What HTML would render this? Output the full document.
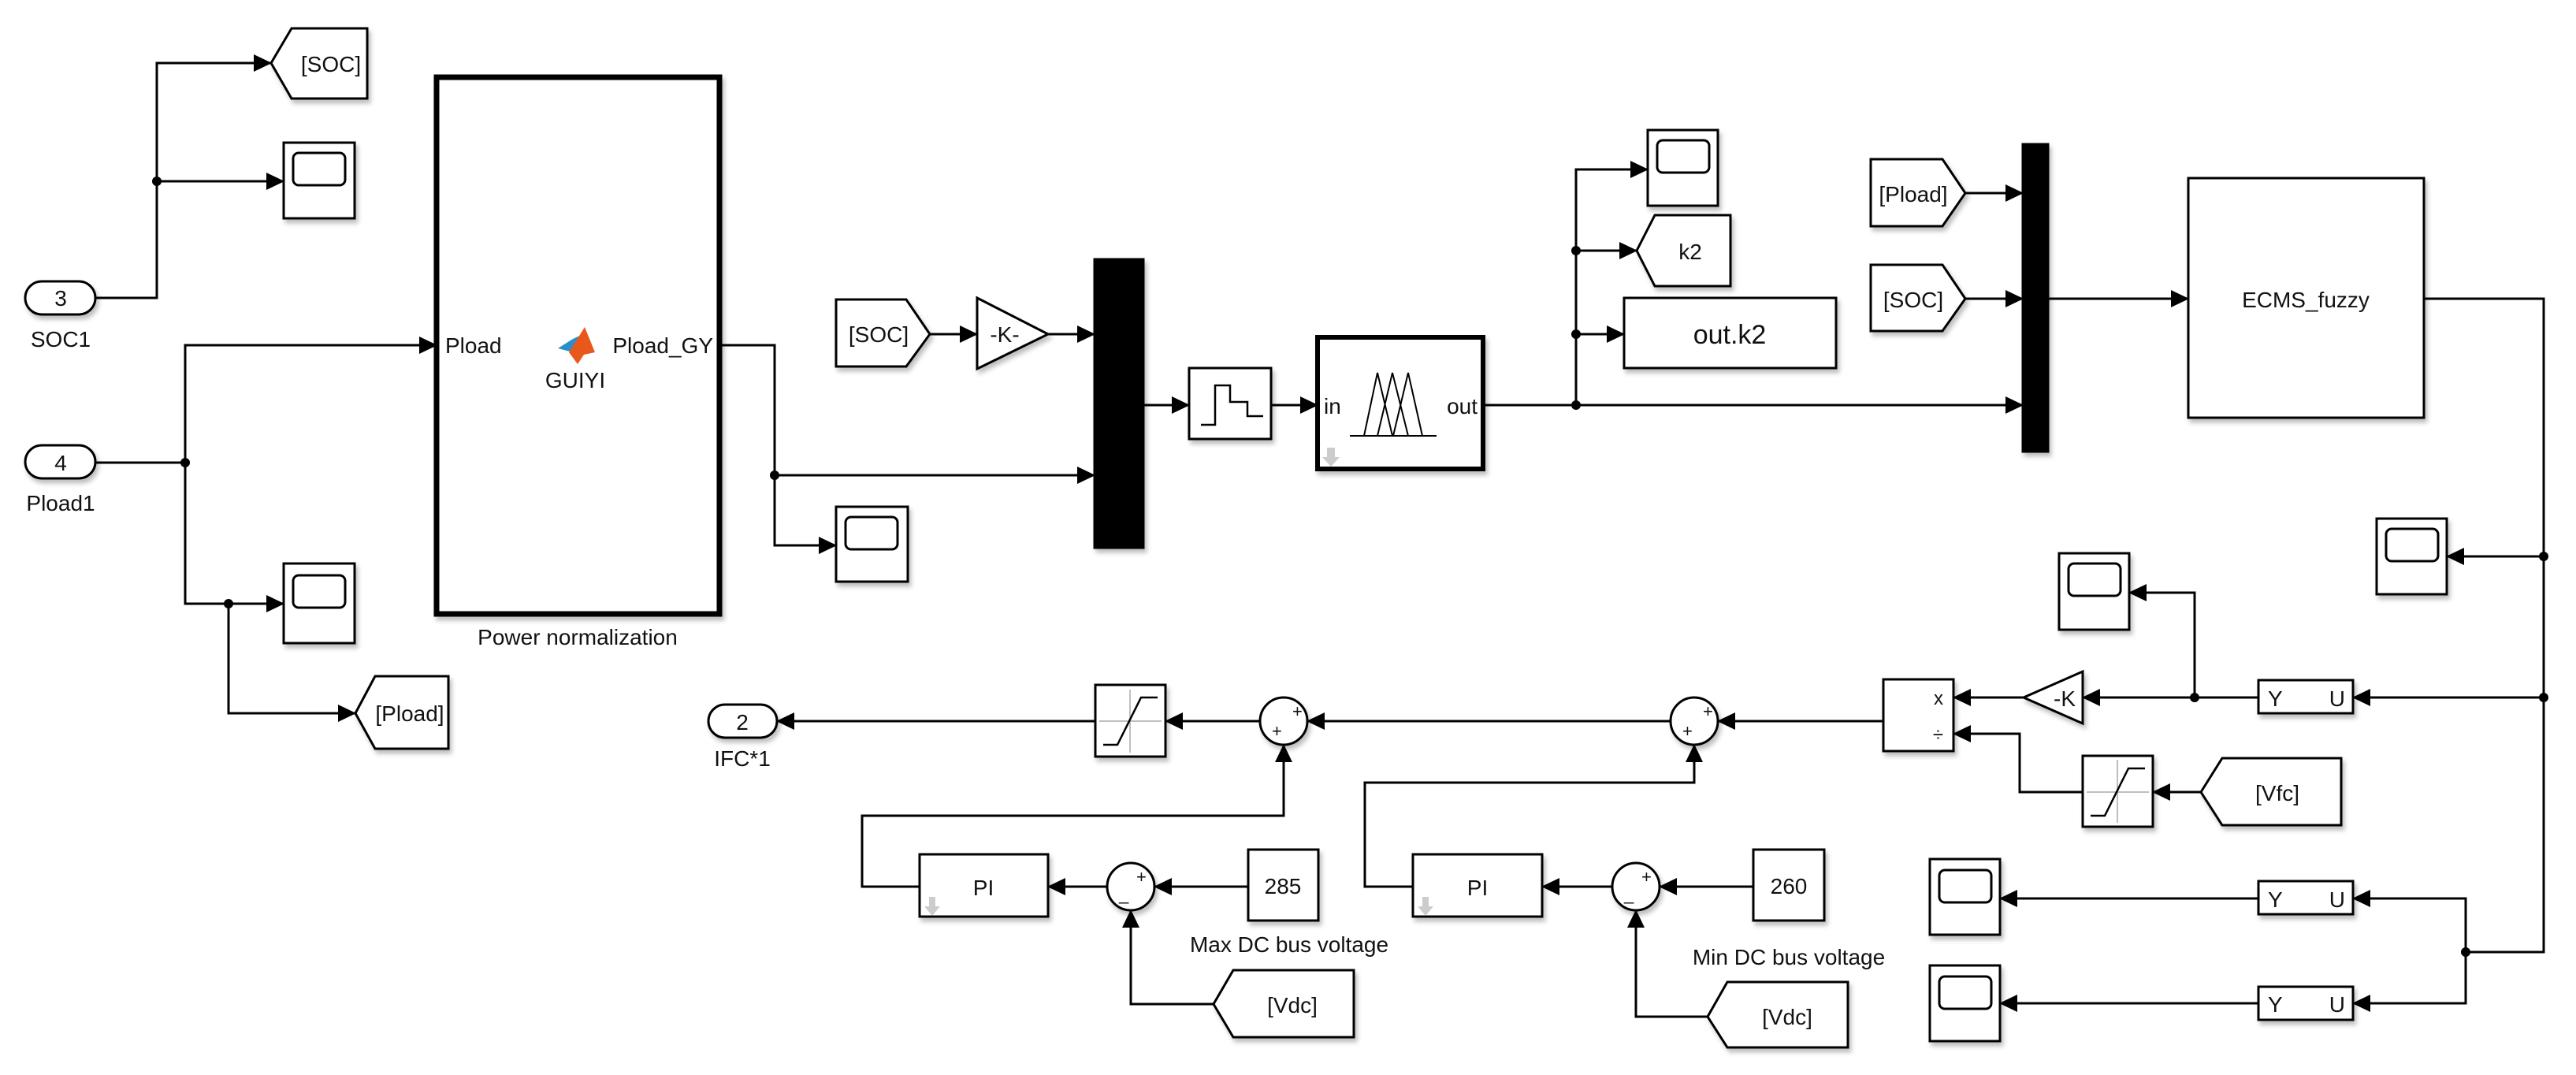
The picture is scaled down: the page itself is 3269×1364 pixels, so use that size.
<!DOCTYPE html>
<html><head><meta charset="utf-8"><style>
html,body{margin:0;padding:0;background:#fff;}
svg{display:block;}
text{font-family:"Liberation Sans Narrow","Liberation Sans",sans-serif;fill:#111;}
</style></head><body>
<svg width="3269" height="1364" viewBox="0 0 3269 1364" xmlns="http://www.w3.org/2000/svg">
<defs>
<marker id="a" markerWidth="24" markerHeight="24" refX="22" refY="12" orient="auto" markerUnits="userSpaceOnUse"><path d="M0,1 L23,12 L0,23z" fill="#000"/></marker>
<filter id="sh" x="-10%" y="-10%" width="130%" height="130%"><feDropShadow dx="3" dy="5" stdDeviation="3" flood-color="#000" flood-opacity="0.25"/></filter>
</defs>
<g fill="none" stroke="#000" stroke-width="3">
<!-- wires -->
<path d="M121,378 H199 V80 H344" marker-end="url(#a)"/>
<path d="M199,230 H360" marker-end="url(#a)"/>
<path d="M121,587 H235 V438 H554" marker-end="url(#a)"/>
<path d="M235,587 V766 H360" marker-end="url(#a)"/>
<path d="M290,766 V905 H451" marker-end="url(#a)"/>
<path d="M913,438 H983 V692 H1061" marker-end="url(#a)"/>
<path d="M983,603 H1389" marker-end="url(#a)"/>
<path d="M1180,424 H1240" marker-end="url(#a)"/>
<path d="M1330,424 H1389" marker-end="url(#a)"/>
<path d="M1451,514 H1509" marker-end="url(#a)"/>
<path d="M1613,514 H1672" marker-end="url(#a)"/>
<path d="M1883,514 H2567" marker-end="url(#a)"/>
<path d="M2000,514 V215 H2091" marker-end="url(#a)"/>
<path d="M2000,318 H2077" marker-end="url(#a)"/>
<path d="M2000,424 H2061" marker-end="url(#a)"/>
<path d="M2494,245 H2567" marker-end="url(#a)"/>
<path d="M2494,379 H2567" marker-end="url(#a)"/>
<path d="M2599,379 H2777" marker-end="url(#a)"/>
<path d="M3076,379 H3228 V1208 H3129 V1140 H2986" marker-end="url(#a)"/>
<path d="M3129,1208 V1273 H2986" marker-end="url(#a)"/>
<path d="M3228,706 H3105" marker-end="url(#a)"/>
<path d="M3228,885 H2986" marker-end="url(#a)"/>
<path d="M2866,885 H2643" marker-end="url(#a)"/>
<path d="M2785,885 V752 H2702" marker-end="url(#a)"/>
<path d="M2568,885 H2479" marker-end="url(#a)"/>
<path d="M2793,1005 H2732" marker-end="url(#a)"/>
<path d="M2643,1005 H2563 V931 H2479" marker-end="url(#a)"/>
<path d="M2390,915 H2180" marker-end="url(#a)"/>
<path d="M2866,1140 H2538" marker-end="url(#a)"/>
<path d="M2866,1273 H2538" marker-end="url(#a)"/>
<path d="M2120,915 H1659" marker-end="url(#a)"/>
<path d="M1599,915 H1479" marker-end="url(#a)"/>
<path d="M1390,915 H986" marker-end="url(#a)"/>
<path d="M1167,1125 H1094 V1035 H1629 V945" marker-end="url(#a)"/>
<path d="M1405,1125 H1330" marker-end="url(#a)"/>
<path d="M1584,1125 H1465" marker-end="url(#a)"/>
<path d="M1540,1274 H1435 V1155" marker-end="url(#a)"/>
<path d="M1793,1125 H1732 V993 H2150 V945" marker-end="url(#a)"/>
<path d="M2046,1125 H1957" marker-end="url(#a)"/>
<path d="M2225,1125 H2106" marker-end="url(#a)"/>
<path d="M2167,1290 H2076 V1155" marker-end="url(#a)"/>
</g>
<g fill="#000">
<circle cx="199" cy="230" r="6"/><circle cx="235" cy="587" r="6"/><circle cx="290" cy="766" r="6"/>
<circle cx="983" cy="603" r="6"/><circle cx="2000" cy="514" r="6"/><circle cx="2000" cy="424" r="6"/><circle cx="2000" cy="318" r="6"/>
<circle cx="3228" cy="706" r="6"/><circle cx="3228" cy="885" r="6"/><circle cx="3129" cy="1208" r="6"/><circle cx="2785" cy="885" r="6"/>
</g>
<!-- blocks -->
<g fill="#fff" stroke="#000" stroke-width="3" filter="url(#sh)">
<rect x="32" y="357" width="89" height="42" rx="21"/>
<rect x="32" y="565" width="89" height="42" rx="21"/>
<polygon points="344,80 370,36 466,36 466,125 370,125"/>
<rect x="360" y="181" width="90" height="96"/>
<rect x="360" y="715" width="90" height="101"/>
<polygon points="451,905 476,858 569,858 569,950 476,950"/>
<rect x="554" y="98" width="359" height="681" stroke-width="7"/>
<polygon points="1061,380 1150,380 1180,424 1150,465 1061,465"/>
<polygon points="1240,378 1330,424 1240,468"/>
<rect x="1061" y="643" width="91" height="95"/>
<rect x="1389" y="329" width="62" height="366" fill="#000"/>
<rect x="1509" y="467" width="104" height="90"/>
<rect x="1672" y="428" width="210" height="167" stroke-width="6"/>
<rect x="2091" y="165" width="89" height="96"/>
<polygon points="2077,318 2100,273 2196,273 2196,363 2100,363"/>
<rect x="2061" y="378" width="269" height="89"/>
<polygon points="2374,202 2465,202 2494,245 2465,287 2374,287"/>
<polygon points="2374,336 2465,336 2494,379 2465,420 2374,420"/>
<rect x="2567" y="183" width="32" height="390" fill="#000"/>
<rect x="2777" y="226" width="299" height="304"/>
<rect x="3016" y="658" width="89" height="96"/>
<rect x="2613" y="702" width="89" height="97"/>
<rect x="2866" y="863" width="120" height="42"/>
<polygon points="2643,852 2643,918 2568,885"/>
<rect x="2390" y="862" width="89" height="91"/>
<polygon points="2793,1005 2820,962 2971,962 2971,1047 2820,1047"/>
<rect x="2643" y="959" width="89" height="90"/>
<rect x="2866" y="1118" width="120" height="42"/>
<rect x="2866" y="1252" width="120" height="42"/>
<rect x="2449" y="1090" width="89" height="96"/>
<rect x="2449" y="1225" width="89" height="96"/>
<circle cx="2150" cy="915" r="30"/>
<circle cx="1629" cy="915" r="30"/>
<rect x="1390" y="869" width="89" height="91"/>
<rect x="899" y="894" width="87" height="42" rx="21"/>
<rect x="1167" y="1084" width="163" height="79"/>
<circle cx="1435" cy="1125" r="30"/>
<rect x="1584" y="1078" width="89" height="90"/>
<polygon points="1540,1274 1565,1231 1718,1231 1718,1316 1565,1316"/>
<rect x="1793" y="1084" width="164" height="79"/>
<circle cx="2076" cy="1125" r="30"/>
<rect x="2225" y="1078" width="90" height="90"/>
<polygon points="2167,1290 2192,1246 2345,1246 2345,1329 2192,1329"/>
</g>
<!-- scope screens -->
<g fill="none" stroke="#000" stroke-width="3">
<rect x="372" y="194" width="66" height="41" rx="7"/>
<rect x="372" y="730" width="66" height="41" rx="7"/>
<rect x="1073" y="656" width="66" height="41" rx="7"/>
<rect x="2103" y="178" width="66" height="41" rx="7"/>
<rect x="3028" y="671" width="66" height="41" rx="7"/>
<rect x="2625" y="715" width="66" height="41" rx="7"/>
<rect x="2461" y="1104" width="66" height="41" rx="7"/>
<rect x="2461" y="1239" width="66" height="41" rx="7"/>
<polyline points="1524,539 1542,539 1542,489 1561,489 1561,510 1583,510 1583,528 1603,528" stroke-width="2.5"/>
<path d="M1713,553 H1823 M1731,553 L1748,473 L1767,553 M1748,553 L1767,473 L1787,553 M1768,553 L1787,473 L1805,553" stroke-width="2"/>
</g>
<g stroke="#aaa" stroke-width="1.5"><path d="M1434,875 V955 M1395,915 H1474 M2687,964 V1044 M2648,1005 H2727"/></g>
<g fill="none" stroke="#000" stroke-width="2.5"><polyline points="1400,945 1418,945 1448,885 1469,885"/><polyline points="2653,1035 2671,1035 2701,975 2722,975"/></g>
<g fill="#ccc"><path d="M1684,568 h10 v12 h6 l-11,12 l-11,-12 h6z"/><path d="M1179,1138 h8 v12 h6 l-10,12 l-10,-12 h6z"/><path d="M1805,1138 h8 v12 h6 l-10,12 l-10,-12 h6z"/></g>
<!-- matlab logo -->
<polygon points="708,442 727,430 740,424 727,447" fill="#2a8fc8"/>
<polygon points="722,447 742,415 755,447 741,450 733,462" fill="#e8581c"/>
<!-- text -->
<g font-size="28">
<text x="77" y="388" text-anchor="middle">3</text>
<text x="77" y="597" text-anchor="middle">4</text>
<text x="77" y="440" text-anchor="middle">SOC1</text>
<text x="77" y="648" text-anchor="middle">Pload1</text>
<text x="420" y="91" text-anchor="middle">[SOC]</text>
<text x="520" y="915" text-anchor="middle">[Pload]</text>
<text x="565" y="448">Pload</text>
<text x="905" y="448" text-anchor="end">Pload_GY</text>
<text x="730" y="492" text-anchor="middle">GUIYI</text>
<text x="733" y="818" text-anchor="middle">Power normalization</text>
<text x="1115" y="434" text-anchor="middle">[SOC]</text>
<text x="1275" y="434" text-anchor="middle">-K-</text>
<text x="1680" y="525">in</text>
<text x="1875" y="525" text-anchor="end">out</text>
<text x="2145" y="329" text-anchor="middle">k2</text>
<text x="2195" y="436" text-anchor="middle" font-size="34">out.k2</text>
<text x="2428" y="256" text-anchor="middle">[Pload]</text>
<text x="2428" y="390" text-anchor="middle">[SOC]</text>
<text x="2926" y="390" text-anchor="middle">ECMS_fuzzy</text>
<text x="2878" y="896">Y</text><text x="2976" y="896" text-anchor="end">U</text>
<text x="2878" y="1151">Y</text><text x="2976" y="1151" text-anchor="end">U</text>
<text x="2878" y="1284">Y</text><text x="2976" y="1284" text-anchor="end">U</text>
<text x="2620" y="896" text-anchor="middle">-K</text>
<text x="2466" y="894" text-anchor="end" font-size="24">x</text>
<text x="2466" y="940" text-anchor="end" font-size="24">÷</text>
<text x="2890" y="1016" text-anchor="middle">[Vfc]</text>
<text x="942" y="926" text-anchor="middle">2</text>
<text x="942" y="972" text-anchor="middle">IFC*1</text>
<text x="1248" y="1136" text-anchor="middle">PI</text>
<text x="1875" y="1136" text-anchor="middle">PI</text>
<text x="1628" y="1134" text-anchor="middle">285</text>
<text x="2270" y="1134" text-anchor="middle">260</text>
<text x="1636" y="1208" text-anchor="middle">Max DC bus voltage</text>
<text x="2270" y="1224" text-anchor="middle">Min DC bus voltage</text>
<text x="1640" y="1285" text-anchor="middle">[Vdc]</text>
<text x="2268" y="1300" text-anchor="middle">[Vdc]</text>
</g>
<g font-size="22">
<text x="1640" y="910">+</text><text x="1614" y="935">+</text>
<text x="2161" y="910">+</text><text x="2135" y="935">+</text>
<text x="1442" y="1120">+</text><text x="1420" y="1142">_</text>
<text x="2083" y="1120">+</text><text x="2061" y="1142">_</text>
</g>
</svg>
</body></html>
